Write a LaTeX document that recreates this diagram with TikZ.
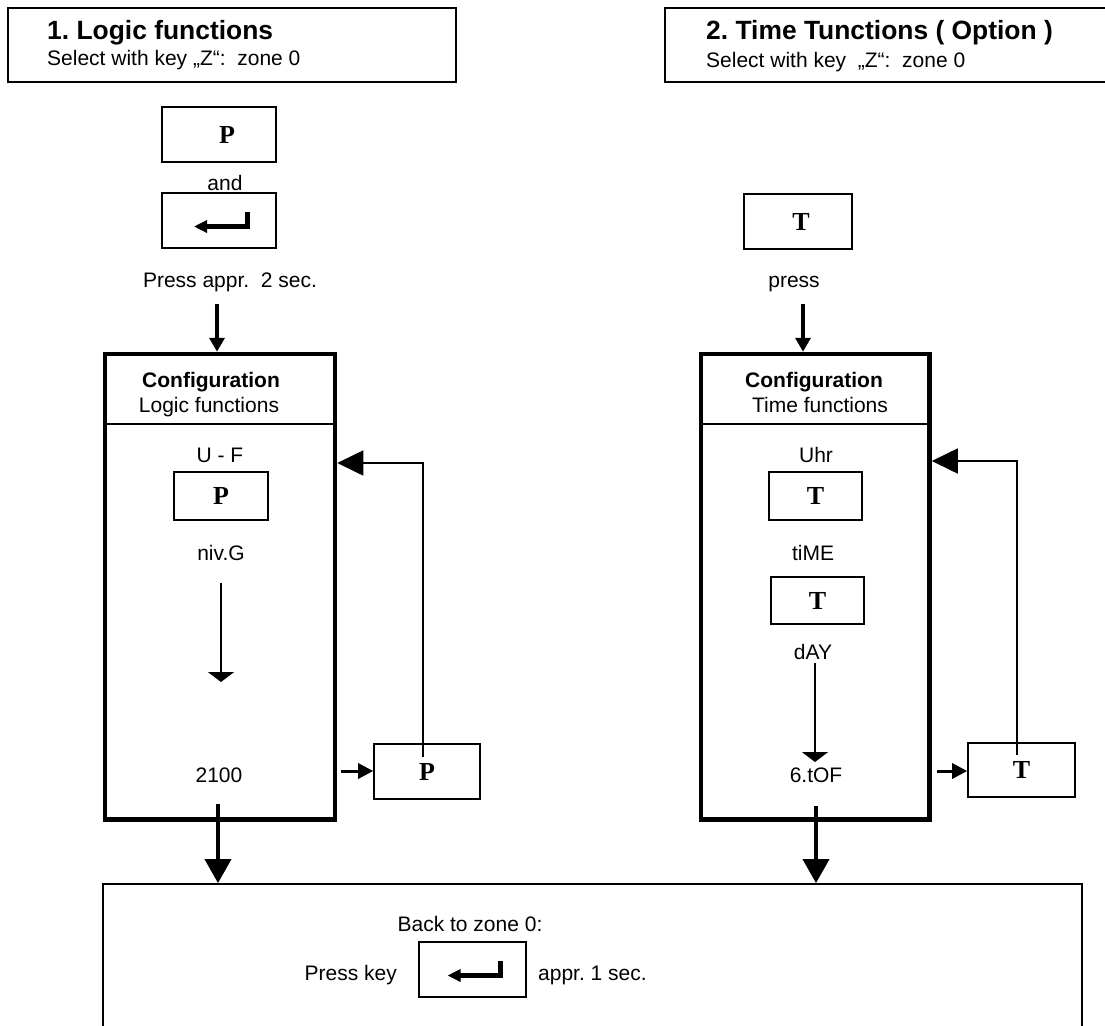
\documentclass[tikz,border=0pt]{standalone}
\usepackage{fontspec}
\setmainfont{Liberation Sans}
\newfontfamily\keyfont{Liberation Serif}
\usetikzlibrary{arrows.meta}
\frenchspacing
\tikzstyle{keyBox}=[shape = rectangle, draw, line width = 1.6pt, inner sep = 0pt, font = \keyfont\bfseries\fontsize{26}{30}\selectfont]
\tikzstyle{configBox}=[shape = rectangle, draw, line width = 4.5pt, inner sep = 0pt]
\tikzstyle{titleBox}=[shape = rectangle, draw, line width = 1.8pt, inner sep = 0pt]
\newcommand{\enterGlyph}[1]{%
  \draw[line width = 5pt, -{Triangle[length=13pt, width=12pt]}] ([shift={(28,-9)}]#1.center) -- ([shift={(28,6)}]#1.center) -- ([shift={(-25,6)}]#1.center);}

\begin{document}
\begin{tikzpicture}[x = 1pt, y = -1pt]
\tikzstyle{plainText}=[inner sep = 0pt, font = \fontsize{21}{25}\selectfont]
\tikzstyle{boldText}=[inner sep = 0pt, font = \bfseries\fontsize{21}{25}\selectfont]
\tikzstyle{headText}=[inner sep = 0pt, anchor = base west, font = \bfseries\fontsize{26.4}{30}\selectfont]
\tikzstyle{bigArrow}=[line width = 4pt, -{Triangle[length=14pt, width=15pt]}]
\tikzstyle{dropArrow}=[line width = 4pt, -{Triangle[length=24pt, width=26pt]}]
\tikzstyle{backArrow}=[line width = 1.6pt, -{Triangle[length=26pt, width=25pt]}]
\tikzstyle{stepArrow}=[line width = 1.6pt, -{Triangle[length=10pt, width=26pt]}]
\tikzstyle{sideArrow}=[line width = 3pt, -{Triangle[length=15pt, width=15pt]}]
\useasboundingbox (0,0) rectangle (1105,1025);
\clip (0,0) rectangle (1105,1025);
% headers
\node[titleBox, minimum width = 448pt, minimum height = 74pt] (h1) at (232,45) {};
\node[headText] (h1a) at (47,40) {1. Logic functions};
\node[plainText, anchor = base west] (h1b) at (47,66) {Select with key „Z“:\ \ zone 0};
\node[titleBox, minimum width = 445pt, minimum height = 74pt] (h2) at (887.5,45) {};
\node[headText] (h2a) at (706,40) {2. Time Tunctions ( Option )};
\node[plainText, anchor = base west] (h2b) at (706,67) {Select with key\ \ „Z“:\ \ zone 0};
% left column
\node[keyBox, minimum width = 114pt, minimum height = 55pt] (k1) at (219,134.5) {\hspace{16pt}P};
\node[plainText, anchor = base] (t1) at (225,190) {and};
\node[keyBox, minimum width = 114pt, minimum height = 55pt] (k2) at (219,220.5) {};
\enterGlyph{k2}
\node[plainText, anchor = base] (t2) at (230,287) {Press appr.\ \ 2 sec.};
\node[configBox, minimum width = 230pt, minimum height = 465.5pt] (c1) at (220,586.75) {};
\draw[line width = 1.6pt] ([yshift = -72pt]c1.north west) -- ([yshift = -72pt]c1.north east);
\node[boldText, anchor = base] (t4) at (211,387) {Configuration};
\node[plainText, anchor = base] (t5) at (209,412) {Logic functions};
\node[plainText, anchor = base] (t6) at (220,462) {U - F};
\node[keyBox, minimum width = 94pt, minimum height = 48pt] (k4) at (221,496) {P};
\node[plainText, anchor = base] (t7) at (221,560) {niv.G};
\node[plainText, anchor = base] (t8) at (219,782) {2100};
\node[keyBox, minimum width = 106pt, minimum height = 55pt] (k5) at (427,771.5) {P};
% right column
\node[keyBox, minimum width = 108pt, minimum height = 55pt] (k3) at (798,221.5) {\hspace{6pt}T};
\node[plainText, anchor = base] (t3) at (794,287) {press};
\node[configBox, minimum width = 228.5pt, minimum height = 465.5pt] (c2) at (815.25,586.75) {};
\draw[line width = 1.6pt] ([yshift = -72pt]c2.north west) -- ([yshift = -72pt]c2.north east);
\node[boldText, anchor = base] (t9) at (814,387) {Configuration};
\node[plainText, anchor = base] (t10) at (820,412) {Time functions};
\node[plainText, anchor = base] (t11) at (816,462) {Uhr};
\node[keyBox, minimum width = 93pt, minimum height = 48pt] (k7) at (815.5,496) {T};
\node[plainText, anchor = base] (t12) at (813,560) {tiME};
\node[keyBox, minimum width = 93pt, minimum height = 47pt] (k8) at (817.5,600.5) {T};
\node[plainText, anchor = base] (t13) at (813,659) {dAY};
\node[plainText, anchor = base] (t14) at (816,782) {6.tOF};
\node[keyBox, minimum width = 107pt, minimum height = 54pt] (k6) at (1021.5,770) {T};
% bottom box
\node[titleBox, minimum width = 979pt, minimum height = 160pt] (bb) at (592.5,964) {};
\node[plainText, anchor = base] (t15) at (470,931) {Back to zone 0:};
\node[plainText, anchor = base east] (t16) at (397,980) {Press key};
\node[keyBox, minimum width = 107pt, minimum height = 55pt] (k9) at (472.5,969.5) {};
\enterGlyph{k9}
\node[plainText, anchor = base west] (t17) at (538,980) {appr. 1 sec.};
% connectors
\coordinate (a1) at (217,304);
\coordinate (a2) at (803,304);
\draw[bigArrow] (a1) -- (a1 |- c1.north);
\draw[bigArrow] (a2) -- (a2 |- c2.north);
\coordinate (s1) at (221,583);
\coordinate (s2) at (221,682);
\draw[stepArrow] (s1) -- (s2);
\coordinate (s3) at (815,663);
\coordinate (s4) at (815,762);
\draw[stepArrow] (s3) -- (s4);
\coordinate (f1) at (423,757);
\coordinate (f2) at (1017,755);
\draw[backArrow] (f1) |- (c1.east |- 0,463);
\draw[backArrow] (f2) |- (c2.east |- 0,461);
\coordinate (m1) at (341,771);
\coordinate (m2) at (937,771);
\draw[sideArrow] (m1) -- (m1 -| k5.west);
\draw[sideArrow] (m2) -- (m2 -| k6.west);
\coordinate (d1) at (218,804);
\coordinate (d2) at (816,806);
\draw[dropArrow] (d1) -- (d1 |- bb.north);
\draw[dropArrow] (d2) -- (d2 |- bb.north);
\end{tikzpicture}
\end{document}
